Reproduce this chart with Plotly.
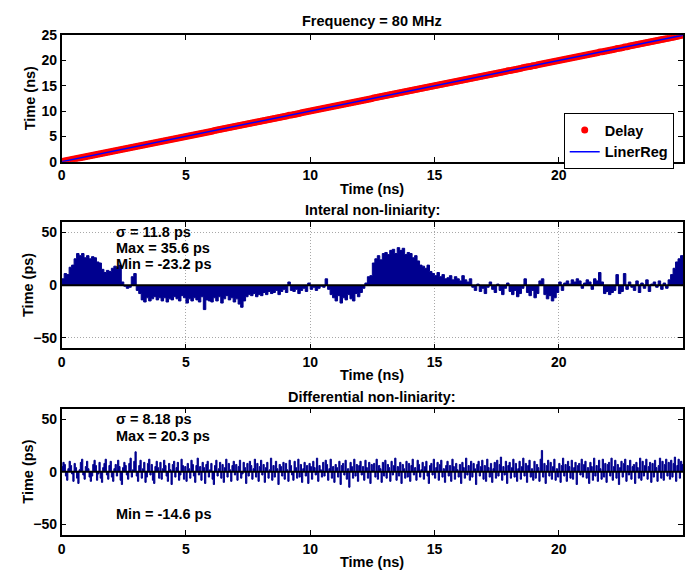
import numpy as np
import plotly.graph_objects as go

# ---- measured TDC data ---------------------------------------------------
inl_bin_ns = 0.1    # INL bin width
dnl_bin_ns = 0.05   # DNL bin width
inl_t = np.round(np.arange(250) * inl_bin_ns + inl_bin_ns / 2, 3)
dnl_t = np.round(np.arange(500) * dnl_bin_ns + dnl_bin_ns / 2, 3)

# integral non-linearity per bin (ps)
inl_ps = [
    6, 11, 10, 17, 19, 25, 30, 28, 30, 26,
    28, 25, 27, 26, 22, 21, 15, 12, 14, 13,
    16, 18, 17, 19, 3, -1, -3, -2, 8, 11,
    -5, -8, -14, -16, -12, -15, -13, -11, -14, -12,
    -15, -12, -16, -13, -14, -11, -13, -15, -10, -12,
    -17, -13, -15, -12, -14, -16, -11, -23.2, -14, -15,
    -16, -12, -15, -11, -17, -13, -10, -14, -12, -16,
    -13, -18, -21, -15, -11, -9, -10, -8, -11, -9,
    -10, -7, -9, -6, -8, -7, -5, -9, -6, -4,
    -7, 3, -5, -6, -4, -8, -5, -3, -6, 2,
    -4, -2, -5, -3, -1, -2, 6, -4, -9, -12,
    -15, -10, -17, -12, -14, -9, -13, -15, -8, -11,
    -7, -3, 2, 8, 9, 21, 25, 28, 24, 30,
    31, 29, 33, 34, 30, 35.6, 33, 35, 29, 31,
    30, 26, 28, 23, 19, 18, 16, 19, 13, 11,
    9, 12, 8, 10, 6, 7, 9, 5, 8, 6,
    4, 9, 5, 3, 6, -2, -5, 1, -6, -3,
    -8, -2, 3, -4, -7, 1, -5, -9, -3, 2,
    -6, -9, -5, -11, -8, -3, 6, -7, -10, -5,
    -12, -8, 4, 6, -9, -13, -10, -15, -12, -7,
    3, -5, 2, 4, 1, 5, 3, 6, 4, -3,
    2, 5, 3, -4, 6, 4, 12, 3, -8, -6,
    -9, -7, -5, 10, -8, -6, 11, -4, 3, -2,
    -5, 4, -7, 2, -3, 5, -6, 1, 3, -2,
    4, -4, 2, -3, 5, 10, 16, 22, 25, 28,
]

# differential non-linearity per bin (ps)
dnl_ps = [
    5, 9, 7, -4, -8, 3, 10, 6, -2, -9,
    8, 4, -6, -11, 2, 9, 12, -3, -7, 5,
    10, 3, -5, -9, -4, 7, 11, 6, -8, -2,
    9, -6, -10, 4, 8, 12, -3, -7, 6, 10,
    -5, -9, 3, 7, -4, 11, 5, -8, -12, 4,
    9, 6, -3, -7, 8, 13, -5, 2, 10, 19,
    -4, -9, 6, 11, -6, 3, 9, -10, -5, 8,
    12, -3, 7, -8, -11, 5, 10, 4, -6, 9,
    -7, 3, 11, 6, -4, -9, 8, 2, -12, 7,
    10, -5, 4, 9, -8, -3, 12, 6, -7, 5,
    -9, 8, 3, -6, 11, 7, -4, -10, 6, 13,
    -3, 5, -8, 9, 4, -11, 7, 10, -5, 2,
    8, -7, -12, 6, 11, -4, 3, 9, -6, 7,
    -10, 4, 12, -5, 8, 2, -9, 6, 10, -3,
    7, -8, 5, 11, -6, -2, 9, 4, -11, 8,
    -4, 10, 6, -7, 3, 12, -5, 8, -9, 5,
    11, -3, 7, -10, 4, 9, -6, 2, 13, -8,
    6, -5, 10, 3, -12, 7, 5, -4, 9, -7,
    8, 2, -9, 11, 6, -3, -8, 10, 4, -6,
    12, -5, 7, -10, 3, 9, -4, 6, -11, 8,
    5, -7, 10, 4, -3, 13, -9, 6, 2, -5,
    9, -4, 11, 7, -8, 3, 12, -6, 5, -10,
    7, 4, -5, 10, -12, 6, 8, -3, 11, -7,
    3, -14.6, 9, 5, -6, 12, -4, 7, -9, 6,
    10, -3, 5, -8, 11, 4, -6, 9, -11, 7,
    2, 8, -5, 12, -7, 6, 3, -10, 9, -4,
    11, -6, 7, 4, -9, 10, -3, 6, 13, -8,
    5, -4, 9, -11, 7, 3, -6, 10, -5, 8,
    -9, 6, 12, -3, 4, -8, 11, 7, -5, 2,
    9, -7, 5, 10, -4, -11, 6, 8, -3, 12,
    -6, 4, 9, -8, 7, 11, -5, 3, -10, 6,
    10, -4, 6, -9, 12, 5, -7, 8, 2, -5,
    7, -11, 9, 4, -6, 13, -3, 6, -8, 10,
    -5, 8, 3, -12, 7, 10, -4, 5, 11, -7,
    6, -9, 12, 4, -5, 8, -10, 3, 9, -6,
    11, -4, 7, 14, -8, 5, -3, 10, -11, 6,
    9, -6, 4, 12, -5, 8, -9, 3, 10, -7,
    5, 13, -4, 8, -10, 6, 11, -5, 3, -8,
    10, -6, 7, 4, -9, 12, 20.3, -5, 8, -11,
    6, 11, -4, 9, -7, 5, 12, -8, 3, -5,
    8, -10, 6, 13, -4, 7, -9, 10, 5, -6,
    11, -7, 4, 9, -12, 6, 8, -3, 12, -5,
    7, 10, -6, 4, -11, 9, 5, -8, 13, -4,
    6, -9, 11, 3, -7, 12, -5, 8, -10, 7,
    9, -4, 13, -8, 5, 11, -6, 7, -12, 4,
    10, -5, 8, 12, -9, 6, -3, 11, -7, 5,
    7, -11, 9, 4, -6, 13, -8, 10, -4, 6,
    12, -7, 5, 9, -10, 8, -5, 11, 4, -9,
    6, 13, -6, 10, -8, 7, 12, -4, 9, -7,
    11, -5, 8, 14, -9, 6, 12, -6, 10, 7,
]

inl_stats = {"sigma": 11.8, "max": 35.6, "min": -23.2}
dnl_stats = {"sigma": 8.18, "max": 20.3, "min": -14.6}

# measured delay = ideal bin time + INL
delay_ns = inl_t + np.array(inl_ps) / 1000.0
slope, intercept = np.polyfit(inl_t, delay_ns, 1)
reg_x = np.array([0.0, 25.0])
reg_y = slope * reg_x + intercept

# ---- styling -------------------------------------------------------------
W, H = 685, 580
FONT = "Liberation Sans"
BAR_COLOR = "rgb(0,0,143)"
px = lambda x: x / W
py = lambda y: 1 - y / H

fig = go.Figure()

fig.add_trace(go.Scatter(
    x=inl_t, y=delay_ns, mode="markers", name="Delay",
    marker=dict(color="red", size=7, symbol="circle", line=dict(width=0)),
    xaxis="x", yaxis="y"))
fig.add_trace(go.Scatter(
    x=reg_x, y=reg_y, mode="lines", name="LinerReg",
    line=dict(color="blue", width=1.5), xaxis="x", yaxis="y"))


def histogram_trace(centers, width, values, key):
    """Filled step outline of per-bin values, each bin spanning its full width."""
    edges = list(centers - width / 2) + [float(centers[-1] + width / 2)]
    heights = list(values) + [values[-1]]
    return go.Scatter(
        x=edges, y=heights, mode="lines", line=dict(shape="hv", color=BAR_COLOR, width=1),
        fill="tozeroy", fillcolor=BAR_COLOR, showlegend=False, hoverinfo="skip",
        xaxis="x" + key, yaxis="y" + key)


fig.add_trace(histogram_trace(inl_t, inl_bin_ns, inl_ps, "2"))
fig.add_trace(histogram_trace(dnl_t, dnl_bin_ns, dnl_ps, "3"))

x_dom = [px(58), px(683)]
panels = {"": (28, 158), "2": (220, 350), "3": (412, 542)}

TEXT_SIZE = 14.5
axis_common = dict(
    showline=True, linecolor="black", linewidth=1.5, mirror="ticks",
    ticks="inside", ticklen=5, tickwidth=1.2, tickcolor="black",
    zeroline=False, showgrid=False,
    tickfont=dict(family=FONT, size=14, color="black", weight="bold"),
)

layout = dict(
    width=W, height=H, margin=dict(l=0, r=0, t=0, b=0),
    paper_bgcolor="white", plot_bgcolor="white",
    showlegend=True,
    legend=dict(x=px(563), y=py(108), xanchor="left", yanchor="top",
                bgcolor="white", bordercolor="black", borderwidth=1,
                font=dict(family=FONT, size=TEXT_SIZE, color="black", weight="bold"),
                tracegroupgap=0, itemwidth=30),
)

grid_style = dict(showgrid=True, gridcolor="#a8a8a8", griddash="1px,2px", gridwidth=1)
for key, (top, bot) in panels.items():
    xa = dict(axis_common, domain=x_dom, range=[0, 25], tickvals=[0, 5, 10, 15, 20],
              anchor="y" + key)
    if key == "":
        ya = dict(axis_common, domain=[py(bot), py(top)], range=[0, 25],
                  tickvals=[0, 5, 10, 15, 20, 25], anchor="x")
    else:
        ya = dict(axis_common, domain=[py(bot), py(top)], range=[-60, 60],
                  tickvals=[-50, 0, 50], anchor="x" + key)
    if key == "2":
        xa.update(grid_style)
        ya.update(grid_style)
    layout["xaxis" + key] = xa
    layout["yaxis" + key] = ya

fig.update_layout(**layout)

# baseline of the histograms
for key in ("2", "3"):
    fig.add_shape(type="line", xref="x" + key, yref="y" + key, x0=0, x1=25, y0=0, y1=0,
                  line=dict(color="black", width=2), layer="above")

bold = dict(family=FONT, size=TEXT_SIZE, color="black", weight="bold")


def label(text, x, y, angle=0, xanchor="center"):
    fig.add_annotation(text=text, x=x, y=y, xref="paper", yref="paper", showarrow=False,
                       xanchor=xanchor, yanchor="middle", textangle=angle, font=bold)


cx = px((58 + 683) / 2)
label("Frequency = 80 MHz", cx, py(13))
label("Time (ns)", cx, py(186))
label("Interal non-liniarity:", cx, py(208))
label("Time (ns)", cx, py(377))
label("Differential non-liniarity:", cx, py(400))
label("Time (ns)", cx, py(570))
label("Time (ns)", px(27), py(93), angle=-90)
label("Time (ps)", px(24), py(285), angle=-90)
label("Time (ps)", px(24), py(477), angle=-90)


def stat(text, key, y):
    fig.add_annotation(text=text, x=2.1, y=y, xref="x" + key, yref="y" + key,
                       showarrow=False, xanchor="left", yanchor="middle", font=bold)


stat(f"\u03c3 = {inl_stats['sigma']} ps", "2", 50)
stat(f"Max = {inl_stats['max']} ps", "2", 35)
stat(f"Min = {inl_stats['min']} ps", "2", 20)
stat(f"\u03c3 = {dnl_stats['sigma']} ps", "3", 50)
stat(f"Max = {dnl_stats['max']} ps", "3", 34)
stat(f"Min = {dnl_stats['min']} ps", "3", -40)

fig.write_html("out.html")
